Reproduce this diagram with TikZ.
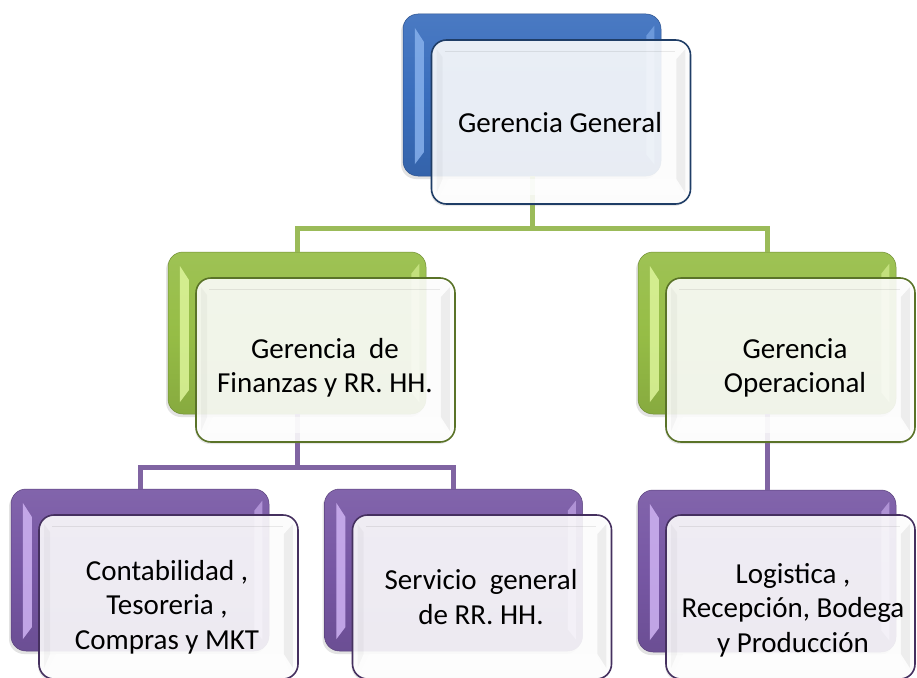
\documentclass[tikz,border=0pt]{standalone}
\usepackage{fontspec}
\setmainfont{Carlito}
\usetikzlibrary{shadows}
\definecolor{gBlue}{HTML}{3A6EBD}
\definecolor{gBlueD}{HTML}{1F3D66}
\definecolor{gBlueH}{HTML}{86B0EC}
\definecolor{gGreen}{HTML}{96BD46}
\definecolor{gGreenD}{HTML}{5A7328}
\definecolor{gGreenH}{HTML}{DDF59A}
\definecolor{gPurp}{HTML}{7757A4}
\definecolor{gPurpD}{HTML}{45305F}
\definecolor{gPurpH}{HTML}{CFB3F3}
\definecolor{lGreen}{HTML}{9BBB59}
\definecolor{lPurp}{HTML}{8064A2}
\newcommand\backbevel[2]{%
  \fill[#2, opacity=.85] ([xshift=12pt,yshift=-14pt]#1.north west) -- ([xshift=21pt,yshift=-28pt]#1.north west) -- ([xshift=21pt,yshift=24pt]#1.south west) -- ([xshift=12pt,yshift=12pt]#1.south west) -- cycle;
  \fill[#2, opacity=.6] ([xshift=-7pt,yshift=-12pt]#1.north east) -- ([xshift=-15pt,yshift=-22pt]#1.north east) -- ([xshift=-15pt,yshift=22pt]#1.south east) -- ([xshift=-7pt,yshift=12pt]#1.south east) -- cycle;
}
\newcommand\frontbevel[1]{%
  \fill[black, opacity=.06] ([xshift=-6pt,yshift=-10pt]#1.north east) -- ([xshift=-15pt,yshift=-20pt]#1.north east) -- ([xshift=-15pt,yshift=26pt]#1.south east) -- ([xshift=-6pt,yshift=12pt]#1.south east) -- cycle;
  \fill[black, opacity=.03] ([xshift=6pt,yshift=-10pt]#1.north west) -- ([xshift=12pt,yshift=-18pt]#1.north west) -- ([xshift=12pt,yshift=26pt]#1.south west) -- ([xshift=6pt,yshift=12pt]#1.south west) -- cycle;
  \fill[white, opacity=.6] ([xshift=10pt,yshift=10pt]#1.south west) -- ([xshift=-10pt,yshift=10pt]#1.south east) -- ([xshift=-16pt,yshift=26pt]#1.south east) -- ([xshift=18pt,yshift=26pt]#1.south west) -- cycle;
  \draw[black, opacity=.08, line width=1pt] ([xshift=14pt,yshift=-12pt]#1.north west) -- ([xshift=-16pt,yshift=-12pt]#1.north east);
}
\tikzset{
  backbox/.style={rounded corners=15pt, minimum width=258pt, minimum height=162pt, inner sep=0pt,
    draw=#1!75!black, line width=.5pt, top color=#1!92!white, bottom color=#1!90!black, middle color=#1,
    drop shadow={opacity=.22, shadow xshift=-2pt, shadow yshift=-3pt}},
  frontbox/.style={rounded corners=15pt, minimum width=259pt, minimum height=164pt, inner sep=0pt,
    draw=#1, line width=1.6pt, fill=white, fill opacity=.88,
    drop shadow={opacity=.18, shadow xshift=-1pt, shadow yshift=-2pt}},
  lbl/.style={align=center, font=\fontsize{29}{34.5}\selectfont, text=black, inner sep=0pt},
  glink/.style={draw=lGreen, line width=5pt},
  plink/.style={draw=lPurp, line width=5pt}
}
\begin{document}
\begin{tikzpicture}[x=1pt,y=-1pt]
\fill[white] (0,0) rectangle (917,677);
\path[use as bounding box] (0,0) rectangle (917,677);
% back boxes
\node[backbox=gBlue] (tB) at (532,95) {};
\node[backbox=gGreen] (glB) at (297,333) {};
\node[backbox=gGreen] (grB) at (767,333) {};
\node[backbox=gPurp] (plB) at (140,570) {};
\node[backbox=gPurp] (pmB) at (453.5,570) {};
\node[backbox=gPurp] (prB) at (767,571) {};
\backbevel{tB}{gBlueH}
\backbevel{glB}{gGreenH}
\backbevel{grB}{gGreenH}
\backbevel{plB}{gPurpH}
\backbevel{pmB}{gPurpH}
\backbevel{prB}{gPurpH}
% connectors
\coordinate (j1) at (532,228);
\coordinate (j2) at (297,467);
\draw[glink] (tB.south) -- (j1) -| (glB.north);
\draw[glink] (j1) -| (grB.north);
\draw[plink] (glB.south) -- (j2) -| (plB.north);
\draw[plink] (j2) -| (pmB.north);
\draw[plink] (grB.south) -- (prB.north);
% front boxes
\node[frontbox=gBlueD] (t) at (561,122) {};
\node[frontbox=gGreenD] (gl) at (325.5,360) {};
\node[frontbox=gGreenD, minimum width=249pt] (gr) at (790.5,360) {};
\node[frontbox=gPurpD] (pl) at (168.5,597) {};
\node[frontbox=gPurpD] (pm) at (482,597) {};
\node[frontbox=gPurpD, minimum width=249pt] (pr) at (790.5,597) {};
\frontbevel{t}
\frontbevel{gl}
\frontbevel{gr}
\frontbevel{pl}
\frontbevel{pm}
\frontbevel{pr}
% labels
\node[lbl] (tL) at (560,123) {Gerencia General};
\node[lbl] (glL) at (325,368) {Gerencia~ de\\Finanzas y RR. HH.};
\node[lbl] (grL) at (795,368) {Gerencia\\Operacional};
\node[lbl] (plL) at (167,607) {Contabilidad ,\\Tesoreria ,\\Compras y MKT};
\node[lbl] (pmL) at (481,597) {Servicio~ general\\de RR. HH.};
\node[lbl] (prL) at (793,610) {Logistica ,\\Recepción, Bodega\\y Producción};
\end{tikzpicture}
\end{document}
